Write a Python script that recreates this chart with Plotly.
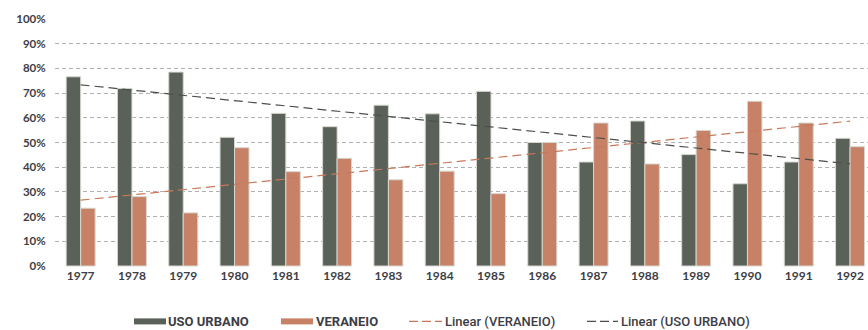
import numpy as np
import plotly.graph_objects as go

# Share of land use per year (%)
years = ["1977", "1978", "1979", "1980", "1981", "1982", "1983", "1984",
         "1985", "1986", "1987", "1988", "1989", "1990", "1991", "1992"]
uso_urbano = [76.6, 71.9, 78.5, 52.1, 61.8, 56.4, 65.1, 61.6,
              70.7, 50.0, 42.1, 58.7, 45.1, 33.3, 42.1, 51.7]
veraneio = [23.4, 28.1, 21.5, 47.9, 38.2, 43.6, 34.9, 38.4,
            29.3, 50.0, 57.9, 41.3, 54.9, 66.7, 57.9, 48.3]
y_ticks = [0, 10, 20, 30, 40, 50, 60, 70, 80, 90, 100]

C_URB = "#5a6158"
C_VER = "#c78166"
C_URB_TREND = "#4b504a"
C_VER_TREND = "#c9795b"
TEXT = "#3d3d45"

W, H = 868, 330
M = dict(l=55, r=0, t=18, b=62.5)

# Least-squares linear trends over the year index
idx = np.arange(len(years))
trend_urb = np.polyval(np.polyfit(idx, uso_urbano, 1), idx)
trend_ver = np.polyval(np.polyfit(idx, veraneio, 1), idx)

fig = go.Figure()

bar_line = dict(color="rgba(215,215,208,1)", width=1)
fig.add_trace(go.Bar(x=years, y=uso_urbano, name="USO URBANO",
                     marker=dict(color=C_URB, line=bar_line)))
fig.add_trace(go.Bar(x=years, y=veraneio, name="VERANEIO",
                     marker=dict(color=C_VER, line=bar_line)))
fig.add_trace(go.Scatter(x=years, y=trend_ver, mode="lines", name="Linear (VERANEIO)",
                         line=dict(color=C_VER_TREND, width=1.2, dash="9px,5px")))
fig.add_trace(go.Scatter(x=years, y=trend_urb, mode="lines", name="Linear (USO URBANO)",
                         line=dict(color=C_URB_TREND, width=1.2, dash="9px,5px")))


# Legend row drawn below the axis, placed in pixel terms
def px_x(px):
    return (px - M["l"]) / (W - M["l"] - M["r"])


def px_y(py):
    return (H - M["b"] - py) / (H - M["t"] - M["b"])


LEG_Y = 322
legend_items = [
    # (swatch start, swatch end, text start, label, colour, kind, weight)
    (134, 166, 167, "USO URBANO", C_URB, "bar", 700),
    (281, 313, 315, "VERANEIO", C_VER, "bar", 700),
    (409, 442, 444, "Linear (VERANEIO)", C_VER_TREND, "dash", 500),
    (587, 618, 620, "Linear (USO URBANO)", C_URB_TREND, "dash", 500),
]
shapes, annotations = [], []
for x0, x1, tx, label, color, kind, weight in legend_items:
    if kind == "bar":
        line = dict(color=color, width=6)
    else:
        line = dict(color=color, width=1.2, dash="9px,4px")
    shapes.append(dict(type="line", xref="paper", yref="paper",
                       x0=px_x(x0), x1=px_x(x1), y0=px_y(LEG_Y), y1=px_y(LEG_Y),
                       line=line))
    annotations.append(dict(xref="paper", yref="paper", x=px_x(tx), y=px_y(LEG_Y),
                            xanchor="left", yanchor="middle", showarrow=False,
                            text=label, borderpad=0,
                            font=dict(family="Roboto, sans-serif", size=13,
                                      weight=weight, color=TEXT)))

fig.update_layout(
    width=W, height=H, margin=M,
    paper_bgcolor="white", plot_bgcolor="white",
    barmode="group", bargap=0.435, bargroupgap=0,
    showlegend=False,
    font=dict(family="Lato, sans-serif", color=TEXT),
    shapes=shapes, annotations=annotations,
)
fig.update_xaxes(
    type="category", range=[-0.5, 15.35],
    showgrid=False, showline=False, zeroline=False, ticks="",
    tickfont=dict(family="Lato, sans-serif", size=12, weight=700, color=TEXT),
)
fig.update_yaxes(
    range=[-0.4, 100.4], tickvals=y_ticks, ticktext=[f"{v}%" for v in y_ticks],
    showgrid=True, gridcolor="#b0b0b0", gridwidth=1, griddash="4px,3px",
    zeroline=False, showline=False,
    ticks="outside", ticklen=6, tickcolor="rgba(0,0,0,0)",
    tickfont=dict(family="Lato, sans-serif", size=11.5, weight=700, color=TEXT),
)

fig.write_html("out.html")
